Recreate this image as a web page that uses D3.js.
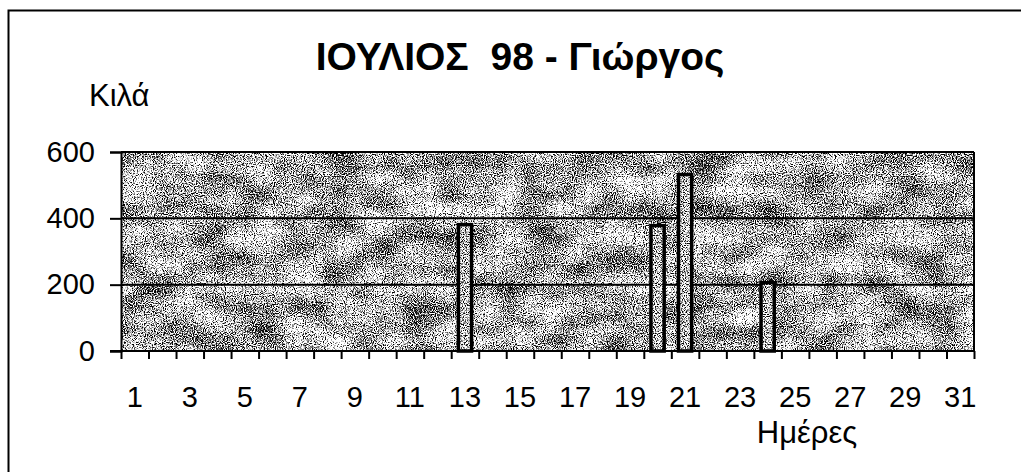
<!DOCTYPE html>
<html>
<head>
<meta charset="utf-8">
<script src="https://cdn.jsdelivr.net/npm/d3@7"></script>
<style>
  body { margin: 0; background: #fff; }
  svg { display: block; font-family: "Liberation Sans", Arial, sans-serif; }
  .axis path, .axis line { stroke: #000; stroke-width: 2; }
  .axis text { fill: #000; font-size: 29px; font-family: "Liberation Sans", Arial, sans-serif; }
</style>
</head>
<body>
<script>
// days of July 98 and kilos recorded
var days = d3.range(1, 32);
var dayLabels = d3.range(1, 32, 2);
var kilos = [0, 0, 0, 0, 0, 0, 0, 0, 0, 0, 0, 0, 381, 0, 0, 0, 0, 0, 0, 378,
             532, 0, 0, 206, 0, 0, 0, 0, 0, 0, 0];
var yTicks = [0, 200, 400, 600];

var width = 1021, height = 472,
    plotLeft = 121, plotRight = 974, plotTop = 152, plotBottom = 351;

var svg = d3.select("body").append("svg")
    .attr("width", width)
    .attr("height", height);

// stippled scan-like texture for the plot area
var defs = svg.append("defs");
var opaque = "1 0 0 0 0  0 1 0 0 0  0 0 1 0 0  0 0 0 0 1";

var grain = defs.append("filter")
    .attr("id", "grain")
    .attr("x", 0).attr("y", 0).attr("width", "100%").attr("height", "100%")
    .attr("color-interpolation-filters", "sRGB");
grain.append("feTurbulence")
    .attr("type", "fractalNoise").attr("baseFrequency", 0.9)
    .attr("numOctaves", 1).attr("seed", 4);
grain.append("feColorMatrix")
    .attr("type", "matrix").attr("values", opaque).attr("result", "fine");
grain.append("feTurbulence")
    .attr("type", "fractalNoise").attr("baseFrequency", "0.025 0.04")
    .attr("numOctaves", 2).attr("seed", 11);
grain.append("feColorMatrix")
    .attr("type", "matrix").attr("values", opaque).attr("result", "coarse");
grain.append("feComposite")
    .attr("in", "fine").attr("in2", "coarse").attr("operator", "arithmetic")
    .attr("k1", 0).attr("k2", 1).attr("k3", 0.3).attr("k4", -0.15).attr("result", "mix");
grain.append("feColorMatrix")
    .attr("in", "mix").attr("type", "matrix")
    .attr("values", "0 0 0 0 0  0 0 0 0 0  0 0 0 0 0  -5 0 0 0 2.78");

var light = defs.append("filter")
    .attr("id", "light")
    .attr("x", 0).attr("y", 0).attr("width", "100%").attr("height", "100%")
    .attr("color-interpolation-filters", "sRGB");
light.append("feTurbulence")
    .attr("type", "fractalNoise").attr("baseFrequency", 0.9)
    .attr("numOctaves", 1).attr("seed", 7);
light.append("feColorMatrix")
    .attr("type", "matrix").attr("values", opaque);
light.append("feColorMatrix")
    .attr("type", "matrix")
    .attr("values", "0 0 0 0 0  0 0 0 0 0  0 0 0 0 0  -5 0 0 0 2.7");

var x = d3.scaleBand()
    .domain(days)
    .range([plotLeft, plotRight])
    .paddingInner(0.52)
    .paddingOuter(0.26);

var xEdge = d3.scaleLinear()
    .domain([0, days.length])
    .range([plotLeft, plotRight]);

var y = d3.scaleLinear()
    .domain([0, 600])
    .range([plotBottom, plotTop]);

// outer frame (left and top edges of the scanned box)
svg.append("path")
    .attr("d", "M8.5," + height + "V10.5H" + width)
    .attr("fill", "none")
    .attr("stroke", "#000")
    .attr("stroke-width", 2);

// plot area
svg.append("rect")
    .attr("x", plotLeft).attr("y", plotTop)
    .attr("width", plotRight - plotLeft).attr("height", plotBottom - plotTop)
    .attr("fill", "#fff");
svg.append("rect")
    .attr("x", plotLeft).attr("y", plotTop)
    .attr("width", plotRight - plotLeft).attr("height", plotBottom - plotTop)
    .attr("filter", "url(#grain)");

// gridlines
svg.append("g")
    .selectAll("line")
    .data(yTicks.slice(1))
  .enter().append("line")
    .attr("x1", plotLeft).attr("x2", plotRight)
    .attr("y1", (d) => y(d)).attr("y2", (d) => y(d))
    .attr("stroke", "#000")
    .attr("stroke-width", 2);

svg.append("line")
    .attr("x1", plotRight).attr("x2", plotRight)
    .attr("y1", plotTop).attr("y2", plotBottom)
    .attr("stroke", "#000")
    .attr("stroke-width", 2);

// bars
var bars = svg.append("g")
    .selectAll("g")
    .data(days.filter((d, i) => kilos[i] > 0))
  .enter().append("g");

bars.append("rect")
    .attr("x", (d) => x(d))
    .attr("y", (d) => y(kilos[d - 1]))
    .attr("width", x.bandwidth())
    .attr("height", (d) => y(0) - y(kilos[d - 1]))
    .attr("fill", "#fff");
bars.append("rect")
    .attr("x", (d) => x(d))
    .attr("y", (d) => y(kilos[d - 1]))
    .attr("width", x.bandwidth())
    .attr("height", (d) => y(0) - y(kilos[d - 1]))
    .attr("filter", "url(#light)");
bars.append("rect")
    .attr("x", (d) => x(d))
    .attr("y", (d) => y(kilos[d - 1]))
    .attr("width", x.bandwidth())
    .attr("height", (d) => y(0) - y(kilos[d - 1]))
    .attr("fill", "none")
    .attr("stroke", "#000")
    .attr("stroke-width", 3.5);

// axes
svg.append("g")
    .attr("class", "axis")
    .attr("transform", "translate(" + plotLeft + ",0)")
    .call(d3.axisLeft(y).tickValues(yTicks).tickSize(11).tickPadding(15));

svg.append("g")
    .attr("class", "axis")
    .attr("transform", "translate(0," + plotBottom + ")")
    .call(d3.axisBottom(xEdge).tickValues(d3.range(days.length + 1)).tickSize(8).tickFormat(""))
    .call((g) => g.select(".domain").attr("d", "M" + (plotLeft - 11) + ",0H" + plotRight));

svg.append("g")
    .attr("class", "axis")
    .attr("transform", "translate(0," + plotBottom + ")")
    .call(d3.axisBottom(x).tickValues(dayLabels).tickSize(0).tickPadding(35))
    .call((g) => g.select(".domain").remove());

// titles
svg.append("text")
    .attr("x", 520).attr("y", 70)
    .attr("text-anchor", "middle")
    .attr("font-size", 39)
    .attr("font-weight", "bold")
    .style("white-space", "pre")
    .text("ΙΟΥΛΙΟΣ  98 - Γιώργος");

svg.append("text")
    .attr("x", 89).attr("y", 106)
    .attr("font-size", 31)
    .text("Κιλά");

svg.append("text")
    .attr("x", 807).attr("y", 443)
    .attr("text-anchor", "middle")
    .attr("font-size", 31)
    .text("Ημέρες");
</script>
</body>
</html>
